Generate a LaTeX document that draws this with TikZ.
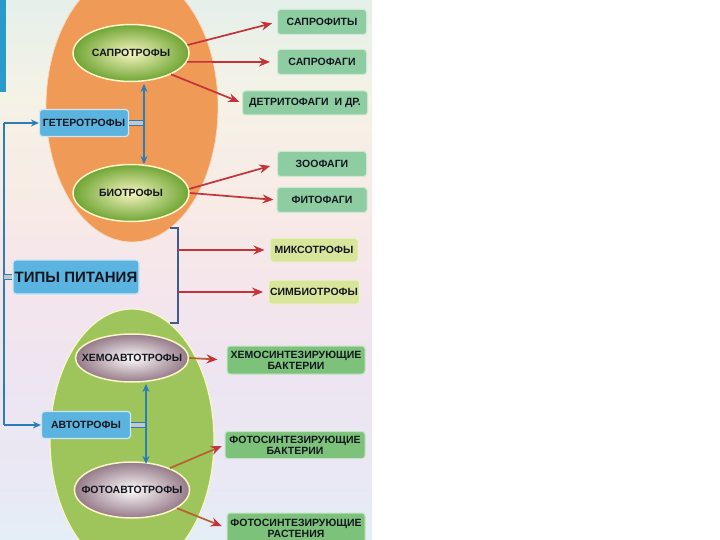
\documentclass[tikz,border=0pt]{standalone}
\usepackage{fontspec}
\setmainfont{Liberation Sans}
\usetikzlibrary{shapes.geometric,arrows.meta}
\definecolor{bgA}{HTML}{E4EEF7}
\definecolor{bgB}{HTML}{E9E8F4}
\definecolor{bgC}{HTML}{EDE5F1}
\definecolor{bgD}{HTML}{F5E5EC}
\definecolor{bgE}{HTML}{F7EBE6}
\definecolor{bgF}{HTML}{F5F2E6}
\definecolor{bgG}{HTML}{E5F0EA}
\definecolor{tabblue}{HTML}{2A9BC8}
\definecolor{orangeE}{HTML}{EF9A57}
\definecolor{limeE}{HTML}{9DC55C}
\definecolor{creamE}{HTML}{FBF5C8}
\definecolor{grIn}{HTML}{F6F5C0}
\definecolor{grOut}{HTML}{6FA534}
\definecolor{mvIn}{HTML}{FDFAFB}
\definecolor{mvOut}{HTML}{957A88}
\definecolor{boxblue}{HTML}{5BB3DF}
\definecolor{boxblueE}{HTML}{CDE8F4}
\definecolor{tealbox}{HTML}{8ECDA2}
\definecolor{yelbox}{HTML}{D8E59B}
\definecolor{grbox}{HTML}{7DC27B}
\definecolor{arrred}{HTML}{C4323A}
\definecolor{arrbrown}{HTML}{B5602E}
\definecolor{arrblue}{HTML}{2B7DB6}
\definecolor{brk}{HTML}{3E5C8C}
\definecolor{txt}{HTML}{14171F}
\pgfdeclareverticalshading{bgshade}{100bp}{color(0bp)=(bgA); color(25bp)=(bgA); color(31bp)=(bgB); color(40bp)=(bgC); color(48bp)=(bgD); color(57bp)=(bgE); color(66bp)=(bgF); color(75bp)=(bgG); color(100bp)=(bgG)}
\newcommand{\ztext}[1]{\makebox[0pt]{#1}}
\tikzset{
  lbl/.style={font=\fontsize{10.5}{11}\selectfont\bfseries, text=txt, align=center, inner sep=0pt},
  gell/.style={lbl, ellipse, draw=creamE, line width=1.5pt, inner color=grIn, outer color=grOut},
  mell/.style={lbl, ellipse, draw=creamE, line width=1.5pt, inner color=mvIn, outer color=mvOut},
  bbox/.style={lbl, rectangle, rounded corners=3pt, fill=boxblue, draw=boxblueE, line width=1.2pt, minimum width=89pt, minimum height=27pt},
  rbox/.style={lbl, rectangle, rounded corners=3pt, draw=white!55!#1, fill=#1, line width=1pt, minimum height=25pt},
  redarr/.style={draw=arrred, line width=1.7pt, -{Stealth[length=11pt,width=9pt]}},
  brnarr/.style={draw=arrbrown, line width=1.7pt, -{Stealth[length=11pt,width=9pt,color=arrred]}},
  bline/.style={draw=arrblue, line width=1.5pt},
  barr/.style={bline, -{Stealth[length=8pt,width=7pt]}},
  dbl/.style={draw=arrblue, line width=1pt, double=gray!45, double distance=3.5pt}
}
\begin{document}
\begin{tikzpicture}[x=1pt,y=-1pt]
\useasboundingbox (0,0) rectangle (720,540);
\clip (0,0) rectangle (720,540);
\fill[white] (0,0) rectangle (720,540);
\fill[shading=bgshade] (0,0) rectangle (372,540);
\fill[tabblue] (0,0) rectangle (6,92);
% big shapes
\draw[white!60!orangeE, line width=0.8pt, fill=orangeE] (132,107) ellipse [x radius=86pt, y radius=135pt];
\draw[creamE, line width=1.2pt, fill=limeE] (132,440) ellipse [x radius=82pt, y radius=131pt];
% inner nodes
\node[gell, minimum width=116pt, minimum height=57pt] (sap) at (131,53) {\ztext{САПРОТРОФЫ}};
\node[gell, minimum width=116pt, minimum height=57pt] (bio) at (131,193) {\ztext{БИОТРОФЫ}};
\node[mell, minimum width=113pt, minimum height=48pt] (chemo) at (132,358) {\ztext{ХЕМОАВТОТРОФЫ}};
\node[mell, minimum width=115pt, minimum height=56pt] (photo) at (132,490) {\ztext{ФОТОАВТОТРОФЫ}};
\node[bbox] (het) at (84,123) {ГЕТЕРОТРОФЫ};
\node[bbox] (auto) at (86,425) {АВТОТРОФЫ};
\node[bbox, minimum width=126pt, minimum height=34pt, font=\fontsize{15}{16}\selectfont\bfseries] (tip) at (76,277) {ТИПЫ ПИТАНИЯ};
% right boxes
\node[rbox=tealbox, minimum width=89pt] (s1) at (322,22) {САПРОФИТЫ};
\node[rbox=tealbox, minimum width=89pt] (s2) at (322,62) {САПРОФАГИ};
\node[rbox=tealbox, minimum width=125pt, minimum height=24pt] (s3) at (305,103) {ДЕТРИТОФАГИ\ \ И ДР.};
\node[rbox=tealbox, minimum width=89pt] (z1) at (322,164) {ЗООФАГИ};
\node[rbox=tealbox, minimum width=90pt] (z2) at (322,200) {ФИТОФАГИ};
\node[rbox=yelbox, minimum width=88pt, minimum height=24pt] (mix) at (314,250) {МИКСОТРОФЫ};
\node[rbox=yelbox, minimum width=91pt, minimum height=24pt] (sym) at (314,292) {СИМБИОТРОФЫ};
\node[rbox=grbox, minimum width=138pt, minimum height=28pt] (hb) at (296,360) {ХЕМОСИНТЕЗИРУЮЩИЕ\\БАКТЕРИИ};
\node[rbox=grbox, minimum width=140pt, minimum height=27pt] (fb) at (295,445) {ФОТОСИНТЕЗИРУЮЩИЕ\\БАКТЕРИИ};
\node[rbox=grbox, minimum width=138pt, minimum height=30pt] (fr) at (296,528) {ФОТОСИНТЕЗИРУЮЩИЕ\\РАСТЕНИЯ};
% coordinates
\coordinate (lt) at (4,123);
\coordinate (lb) at (4,425);
\coordinate (hj) at (144,123);
\coordinate (hup) at (144,84);
\coordinate (hdn) at (144,164);
\coordinate (aj) at (146,425);
\coordinate (aup) at (146,384);
\coordinate (adn) at (146,464);
\coordinate (bt0) at (170,228);
\coordinate (bt) at (178,228);
\coordinate (bb) at (178,323);
\coordinate (bb0) at (170,323);
\coordinate (m1) at (178,250);
\coordinate (m2) at (178,292);
% blue connectors
\draw[bline] (lt) -- (lb);
\draw[barr] (lt) -- (het.west);
\draw[barr] (lb) -- (auto.west);
\draw[dbl] (tip.west) -- (tip.west -| lt);
\draw[dbl] (het.east) -- (hj);
\draw[barr] (hj) -- (hup);
\draw[barr] (hj) -- (hdn);
\draw[dbl] (auto.east) -- (aj);
\draw[barr] (aj) -- (aup);
\draw[barr] (aj) -- (adn);
% bracket
\draw[brk, line width=1.2pt] (bt0) -- (bt) -- (bb) -- (bb0);
% red arrows
\draw[redarr, shorten >=5pt] (sap.8) -- (s1.west);
\draw[redarr, shorten >=7pt] (sap.-9) -- (s2.west);
\draw[redarr, shorten >=3pt] (sap.-28) -- (s3.west);
\draw[redarr, shorten >=7pt] (bio.4) -- (z1.west);
\draw[redarr, shorten >=3pt] (bio.east) -- (z2.west);
\draw[redarr, shorten >=5pt] (m1) -- (mix.west);
\draw[redarr, shorten >=5pt] (m2) -- (sym.west);
\draw[brnarr, shorten >=9pt] (chemo.east) -- (hb.west);
\draw[brnarr, shorten >=3pt] (photo.30) -- (fb.west);
\draw[brnarr, shorten >=5pt] (photo.-22) -- (fr.west);
\end{tikzpicture}
\end{document}
